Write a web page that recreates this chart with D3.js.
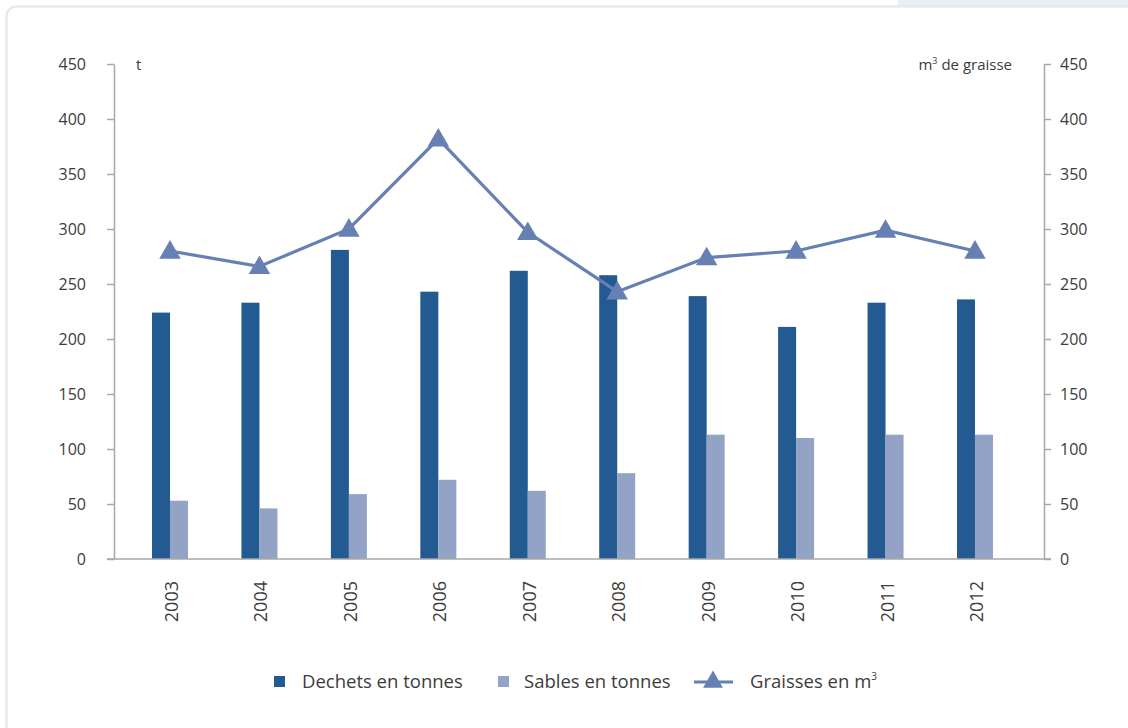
<!DOCTYPE html>
<html>
<head>
<meta charset="utf-8">
<script src="https://cdn.jsdelivr.net/npm/d3@7"></script>
<style>
  html, body { margin: 0; padding: 0; background: #ffffff; }
  svg { display: block; }
  text { font-family: "Open Sans", "Noto Sans", sans-serif; fill: #3c3c3c; font-weight: 400; }
</style>
</head>
<body>
<svg id="chart" width="1128" height="728"></svg>
<script>
// Annual volumes removed by the treatment works
const years = ["2003", "2004", "2005", "2006", "2007", "2008", "2009", "2010", "2011", "2012"];
const dechets = [224, 233, 281, 243, 262, 258, 239, 211, 233, 236];   // t
const sables = [53, 46, 59, 72, 62, 78, 113, 110, 113, 113];          // t
const graisses = [280, 266, 300, 382, 297, 243, 274, 280, 299, 280];  // m3
const yTicks = [0, 50, 100, 150, 200, 250, 300, 350, 400, 450];
const legendItems = ["Dechets en tonnes", "Sables en tonnes", "Graisses en m"];

const colDechets = "#245a92";
const colSables = "#92a3c6";
const colGraisses = "#6680b3";
const colAxis = "#a8a8a8";

const svg = d3.select("#chart");

// page frame
svg.append("rect")
  .attr("x", 0).attr("y", 0).attr("width", 1128).attr("height", 728)
  .attr("fill", "#ffffff");
svg.append("rect")
  .attr("x", 898).attr("y", 0).attr("width", 240).attr("height", 6)
  .attr("fill", "#e9edf5");
svg.append("rect")
  .attr("x", 6.5).attr("y", 6.5).attr("width", 1140).attr("height", 740)
  .attr("rx", 10).attr("ry", 10)
  .attr("fill", "#ffffff").attr("stroke", "#e6e9f1").attr("stroke-width", 2.5);

// scales
const yLeft = d3.scaleLinear().domain([0, 450]).range([559, 64]);
const yRight = d3.scaleLinear().domain([0, 450]).range([559, 64]);
const x = d3.scaleBand().domain(years).range([125.3, 1019.7]).padding(0);
const cx = d => x(d) + x.bandwidth() / 2;
const barW = 18;

// axes
const gLeft = svg.append("g").attr("transform", "translate(114,0)")
  .call(d3.axisLeft(yLeft).tickValues(yTicks).tickSize(7).tickPadding(21).tickSizeOuter(0));
const gRight = svg.append("g").attr("transform", "translate(1044,0)")
  .call(d3.axisRight(yRight).tickValues(yTicks).tickSize(7).tickPadding(9).tickSizeOuter(0));
[gLeft, gRight].forEach(g => {
  g.select(".domain").attr("stroke", colAxis).attr("stroke-width", 1.5);
  g.selectAll(".tick line").attr("stroke", colAxis).attr("stroke-width", 1.5);
  g.selectAll(".tick text")
    .attr("font-size", 16).attr("fill", "#3c3c3c")
    .style("font-family", "'Open Sans', sans-serif");
});

// bars
svg.append("g").selectAll("rect").data(years).join("rect")
  .attr("x", d => cx(d) - barW)
  .attr("y", (d, i) => yLeft(dechets[i]))
  .attr("width", barW)
  .attr("height", (d, i) => yLeft(0) - yLeft(dechets[i]))
  .attr("fill", colDechets);
svg.append("g").selectAll("rect").data(years).join("rect")
  .attr("x", d => cx(d))
  .attr("y", (d, i) => yLeft(sables[i]))
  .attr("width", barW)
  .attr("height", (d, i) => yLeft(0) - yLeft(sables[i]))
  .attr("fill", colSables);

// category axis
svg.append("line")
  .attr("x1", 107).attr("x2", 1051)
  .attr("y1", yLeft(0)).attr("y2", yLeft(0))
  .attr("stroke", colAxis).attr("stroke-width", 1.5);
svg.append("g").selectAll("text").data(years).join("text")
  .attr("transform", d => `translate(${cx(d) + 1},581) rotate(-90)`)
  .attr("text-anchor", "end")
  .attr("dominant-baseline", "central")
  .attr("font-size", 18)
  .text(d => d);

// grease line on the right axis
const line = d3.line().x(d => cx(d.year)).y(d => yRight(d.v));
const pts = years.map((y, i) => ({ year: y, v: graisses[i] }));
svg.append("path").datum(pts)
  .attr("d", line)
  .attr("fill", "none").attr("stroke", colGraisses).attr("stroke-width", 3.2);
const tri = d3.symbol().type(d3.symbolTriangle).size(200);
svg.append("g").selectAll("path").data(pts).join("path")
  .attr("transform", d => `translate(${cx(d.year)},${yRight(d.v) + 1.5})`)
  .attr("d", tri)
  .attr("fill", colGraisses);

// axis units
svg.append("text").attr("x", 136).attr("y", 70).attr("font-size", 15).text("t");
const unitR = svg.append("text").attr("x", 1012).attr("y", 70)
  .attr("text-anchor", "end").attr("font-size", 15);
unitR.append("tspan").text("m");
unitR.append("tspan").attr("font-size", 9).attr("dy", -6).text("3");
unitR.append("tspan").attr("dy", 6).text(" de graisse");

// legend
const lg = svg.append("g");
lg.append("rect").attr("x", 274).attr("y", 676).attr("width", 11).attr("height", 11).attr("fill", colDechets);
lg.append("text").attr("x", 302).attr("y", 688).attr("font-size", 18.5).text(legendItems[0]);
lg.append("rect").attr("x", 498).attr("y", 676).attr("width", 11).attr("height", 11).attr("fill", colSables);
lg.append("text").attr("x", 524).attr("y", 688).attr("font-size", 18.5).text(legendItems[1]);
lg.append("line").attr("x1", 694).attr("x2", 733).attr("y1", 682).attr("y2", 682)
  .attr("stroke", colGraisses).attr("stroke-width", 3.2);
lg.append("path").attr("transform", "translate(713,682)")
  .attr("d", d3.symbol().type(d3.symbolTriangle).size(170)).attr("fill", colGraisses);
const lt = lg.append("text").attr("x", 750).attr("y", 688).attr("font-size", 18.5);
lt.append("tspan").text(legendItems[2]);
lt.append("tspan").attr("font-size", 10).attr("dy", -8).text("3");
</script>
</body>
</html>
